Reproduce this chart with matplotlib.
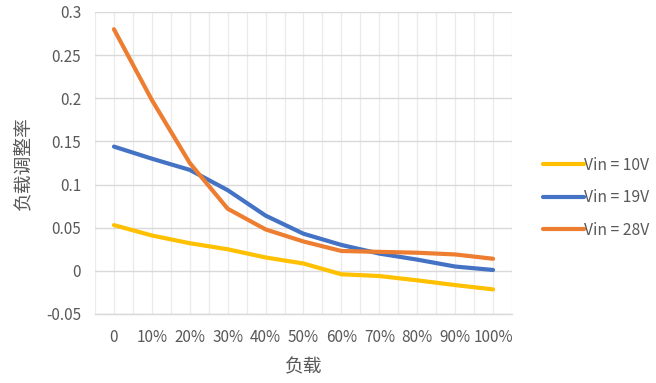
import matplotlib
import matplotlib.pyplot as plt
from matplotlib.ticker import FixedLocator

matplotlib.use("Agg")

plt.rcParams["font.family"] = ["Noto Sans CJK SC", "DejaVu Sans"]

loads = ["0", "10%", "20%", "30%", "40%", "50%", "60%", "70%", "80%", "90%", "100%"]
vin_10 = [0.053, 0.041, 0.032, 0.025, 0.0155, 0.0085, -0.004, -0.006, -0.011, -0.0165, -0.0215]
vin_19 = [0.144, 0.130, 0.117, 0.0935, 0.064, 0.043, 0.030, 0.020, 0.013, 0.005, 0.001]
vin_28 = [0.280, 0.198, 0.125, 0.072, 0.048, 0.034, 0.023, 0.022, 0.021, 0.019, 0.014]
series = [("Vin = 10V", vin_10, "#FFC000"),
          ("Vin = 19V", vin_19, "#4472C4"),
          ("Vin = 28V", vin_28, "#ED7D31")]

TXT = "#595959"
GRID = "#D9D9D9"

fig = plt.figure(figsize=(6.56, 3.83), dpi=100)
ax = fig.add_axes([0.1448, 0.1802, 0.6357, 0.7885])

x = list(range(len(loads)))
for label, vals, color in series:
    ax.plot(x, vals, color=color, linewidth=3, label=label, solid_capstyle="round", zorder=3)

ax.set_xlim(-0.5, len(loads) - 0.5)
ax.set_ylim(-0.05, 0.3)
ax.set_yticks([-0.05, 0, 0.05, 0.1, 0.15, 0.2, 0.25, 0.3])
ax.set_yticklabels(["-0.05", "0", "0.05", "0.1", "0.15", "0.2", "0.25", "0.3"])
ax.set_xticks(x)
ax.set_xticklabels(loads)
ax.xaxis.set_minor_locator(FixedLocator([i - 0.5 for i in range(len(loads) + 1)]))

ax.grid(axis="y", color=GRID, linewidth=1)
ax.grid(axis="x", which="both", color="#EBEBEB", linewidth=1)
ax.set_axisbelow(True)
for side in ["top", "right", "left"]:
    ax.spines[side].set_visible(False)
ax.spines["bottom"].set_color(GRID)
ax.spines["bottom"].set_linewidth(1)

ax.tick_params(axis="both", which="both", length=0, labelsize=11, labelcolor=TXT)
ax.tick_params(axis="y", pad=10)
ax.tick_params(axis="x", pad=11)

ax.set_ylabel("负载调整率", fontsize=13.5, color=TXT, labelpad=9)
ax.set_xlabel("负载", fontsize=13.5, color=TXT, labelpad=7)

ax.legend(loc="center left", bbox_to_anchor=(1.04, 0.385), frameon=False,
          fontsize=11.3, handlelength=2.6, handletextpad=0.05, labelspacing=1.0,
          labelcolor=TXT)

fig.savefig("out.png", dpi=100, facecolor="white")
